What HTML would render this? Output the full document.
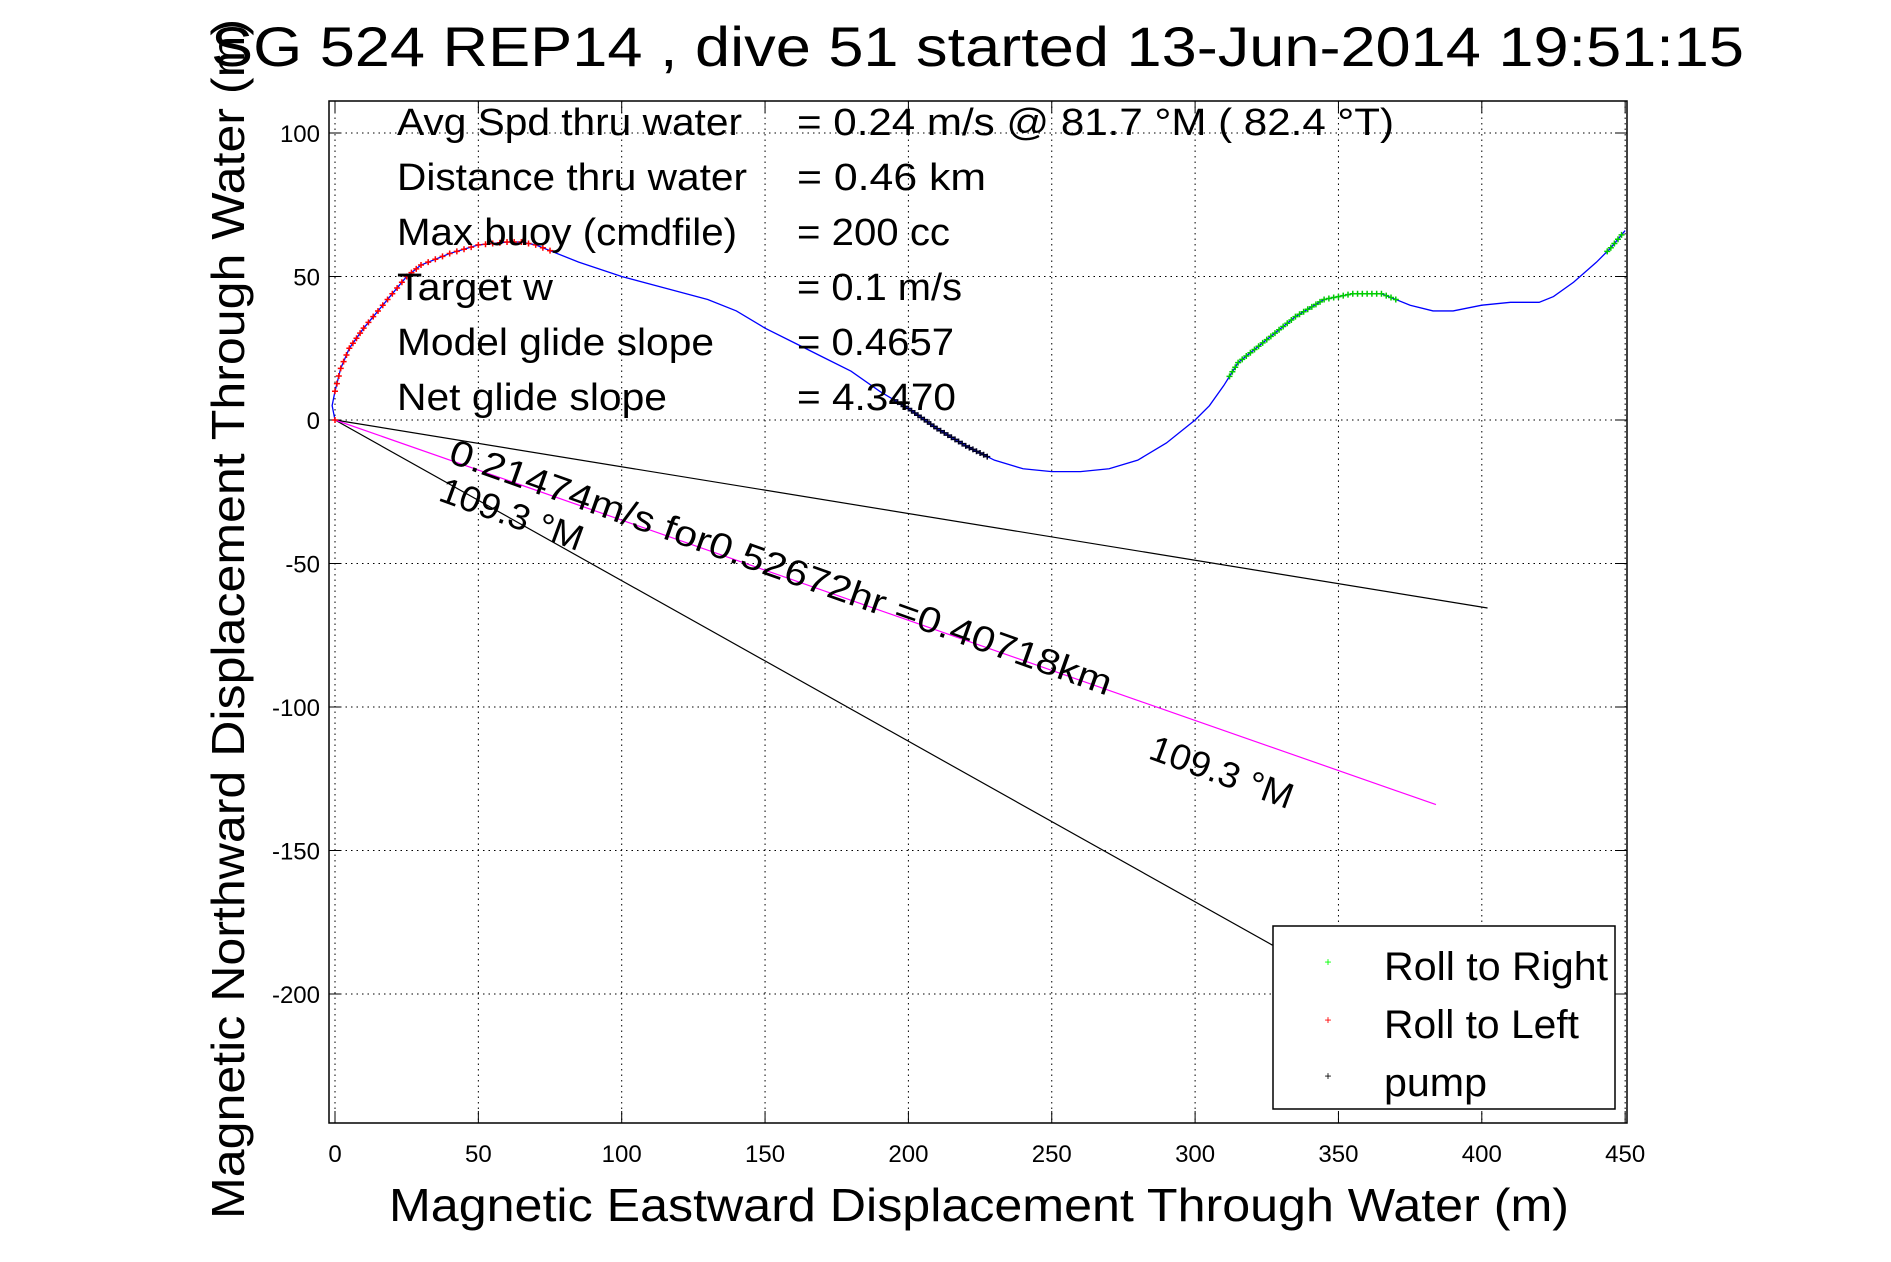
<!DOCTYPE html>
<html><head><meta charset="utf-8"><style>
html,body{margin:0;padding:0;background:#fff;}
svg{display:block;font-family:"Liberation Sans",sans-serif;}
</style></head><body>
<svg id="chart" width="1891" height="1262" viewBox="0 0 1891 1262" xmlns="http://www.w3.org/2000/svg">
<rect width="1891" height="1262" fill="#fff"/>
<text x="211" y="66" font-size="56" textLength="1533" lengthAdjust="spacingAndGlyphs">SG 524   REP14  , dive 51  started 13-Jun-2014 19:51:15</text>
<rect x="329" y="101" width="1298" height="1022" fill="#fff" stroke="#000" stroke-width="1.5"/>
<g id="grid"></g>
<g id="ticks"></g>
<g id="lines"></g>
<g id="series"></g>
<g font-size="38">
<text x="397" y="135" textLength="345" lengthAdjust="spacingAndGlyphs">Avg Spd thru water</text>
<text x="797" y="135" textLength="597" lengthAdjust="spacingAndGlyphs">=  0.24 m/s @  81.7 °M ( 82.4 °T)</text>
<text x="397" y="190" textLength="350" lengthAdjust="spacingAndGlyphs">Distance thru water</text>
<text x="797" y="190" textLength="189" lengthAdjust="spacingAndGlyphs">=  0.46 km</text>
<text x="397" y="245" textLength="340" lengthAdjust="spacingAndGlyphs">Max buoy (cmdfile)</text>
<text x="797" y="245" textLength="153" lengthAdjust="spacingAndGlyphs">= 200 cc</text>
<text x="397" y="300" textLength="156" lengthAdjust="spacingAndGlyphs">Target w</text>
<text x="797" y="300" textLength="165" lengthAdjust="spacingAndGlyphs">= 0.1 m/s</text>
<text x="397" y="355" textLength="317" lengthAdjust="spacingAndGlyphs">Model glide slope</text>
<text x="797" y="355" textLength="157" lengthAdjust="spacingAndGlyphs">= 0.4657</text>
<text x="397" y="410" textLength="270" lengthAdjust="spacingAndGlyphs">Net glide slope</text>
<text x="797" y="410" textLength="159" lengthAdjust="spacingAndGlyphs">= 4.3470</text>
</g>
<text transform="translate(447,462) rotate(19.5)" font-size="36" textLength="700" lengthAdjust="spacingAndGlyphs">0.21474m/s for0.52672hr =0.40718km</text>
<text transform="translate(437,500) rotate(20)" font-size="36" textLength="150" lengthAdjust="spacingAndGlyphs">109.3 °M</text>
<text transform="translate(1147,758) rotate(20)" font-size="36" textLength="150" lengthAdjust="spacingAndGlyphs">109.3 °M</text>
<g>
<rect x="1273" y="926" width="342" height="183" fill="#fff" stroke="#000" stroke-width="1.5"/>
<text x="1328" y="966" font-size="12" fill="#0f0" text-anchor="middle">+</text>
<text x="1328" y="1024" font-size="12" fill="#f00" text-anchor="middle">+</text>
<text x="1328" y="1080" font-size="12" fill="#000" text-anchor="middle">+</text>
<text x="1384" y="980" font-size="40" textLength="224" lengthAdjust="spacingAndGlyphs">Roll to Right</text>
<text x="1384" y="1038" font-size="40" textLength="195" lengthAdjust="spacingAndGlyphs">Roll to Left</text>
<text x="1384" y="1096" font-size="40" textLength="103" lengthAdjust="spacingAndGlyphs">pump</text>
</g>
<text x="389" y="1221" font-size="46" textLength="1180" lengthAdjust="spacingAndGlyphs">Magnetic Eastward Displacement Through Water (m)</text>
<text transform="translate(244,1219) rotate(-90)" font-size="46" textLength="1200" lengthAdjust="spacingAndGlyphs">Magnetic Northward Displacement Through Water (m)</text>
</svg>
<script>
const xTicks = [0,50,100,150,200,250,300,350,400,450];
const yTicks = [100,50,0,-50,-100,-150,-200];
const trackX = [0,-1,0,2,5,10,15,20,25,30,40,50,60,65,70,75,85,100,115,130,140,150,160,170,180,190,200,210,220,230,240,250,260,270,280,290,300,305,310,315,325,335,345,355,365,370,375,383,390,400,410,420,425,432,440,445,450];
const trackY = [0,5,10,18,25,32,38,44,50,54,58,61,62,62,61,59,55,50,46,42,38,32,27,22,17,10,4,-3,-9,-14,-17,-18,-18,-17,-14,-8,0,5,12,20,28,36,42,44,44,42,40,38,38,40,41,41,43,48,55,60,66];
const rollLeftRange = [0,75];
const pumpRange = [195,228];
const rollRightRanges = [[312,370],[443,450]];
const headingEndX = [402,327];
const headingEndY = [-65.5,-183];
const currentEndX = 384, currentEndY = -134;

const X0=335, XS=2.867, Y0=420, YS=2.87, L=329, R=1627, T=101, B=1123;
const sx=v=>X0+v*XS, sy=v=>Y0-v*YS;
const NS='http://www.w3.org/2000/svg';
function mk(tag,parent,attrs){const e=document.createElementNS(NS,tag);for(const k in attrs)e.setAttribute(k,attrs[k]);parent.appendChild(e);return e;}
const grid=document.getElementById('grid'), ticks=document.getElementById('ticks');
xTicks.forEach(v=>{
 const g=mk('line',grid,{x1:sx(v),x2:sx(v),y1:T,y2:B,stroke:'#000','stroke-width':1,'stroke-dasharray':'1.5,4'});
 
 
 mk('line',grid,{x1:sx(v),x2:sx(v),y1:B,y2:B-12,stroke:'#000'});
 mk('line',grid,{x1:sx(v),x2:sx(v),y1:T,y2:T+12,stroke:'#000'});
 const t=mk('text',ticks,{x:sx(v),y:1162,'font-size':24,'text-anchor':'middle'});t.textContent=v;
 
 
});
yTicks.forEach(v=>{
 const g=mk('line',grid,{x1:L,x2:R,y1:sy(v),y2:sy(v),stroke:'#000','stroke-width':1,'stroke-dasharray':'1.5,4'});
 
 
 mk('line',grid,{x1:L,x2:L+12,y1:sy(v),y2:sy(v),stroke:'#000'});
 mk('line',grid,{x1:R,x2:R-12,y1:sy(v),y2:sy(v),stroke:'#000'});
 const t=mk('text',ticks,{x:320,y:sy(v)+9,'font-size':24,'text-anchor':'end'});t.textContent=v;
 
 
});
const lines=document.getElementById('lines');
headingEndX.forEach((ex,i)=>{
 const l=mk('line',lines,{x1:sx(0),y1:sy(0),x2:sx(ex),y2:sy(headingEndY[i]),stroke:'#000','stroke-width':1.2});
 
 
});
const cl=mk('line',lines,{x1:sx(0),y1:sy(0),x2:sx(currentEndX),y2:sy(currentEndY),stroke:'#f0f','stroke-width':1.2});


const ser=document.getElementById('series');
const pl=mk('polyline',ser,{points:trackX.map((x,i)=>sx(x)+','+sy(trackY[i])).join(' '),fill:'none',stroke:'#00f','stroke-width':1.3});


// interpolate marker positions along track (for markers only)
function pts(a,b,step){const out=[];for(let i=0;i<trackX.length-1;i++){const x1=trackX[i],x2=trackX[i+1],y1=trackY[i],y2=trackY[i+1];const d=Math.hypot(sx(x2)-sx(x1),sy(y2)-sy(y1));const n=Math.max(1,Math.round(d/step));for(let k=0;k<n;k++){const t=k/n,x=x1+(x2-x1)*t,y=y1+(y2-y1)*t;if(x>=a&&x<=b&&!(i<3&&a>0))out.push([x,y]);}}return out;}
function plus(x,y,c,name){const g=mk('path',ser,{d:`M${sx(x)-3},${sy(y)}h6M${sx(x)},${sy(y)-3}v6`,stroke:c,'stroke-width':1.5});
 
 }
pts(rollLeftRange[0],rollLeftRange[1],7).filter(p=>trackY.length&&true).forEach(p=>plus(p[0],p[1],'#f00','roll-left-marker'));
pts(pumpRange[0],pumpRange[1],4).forEach(p=>plus(p[0],p[1],'#002','pump-marker'));
rollRightRanges.forEach(r=>pts(r[0],r[1],5).forEach(p=>plus(p[0],p[1],'#0c0','roll-right-marker')));
</script>
</body></html>
